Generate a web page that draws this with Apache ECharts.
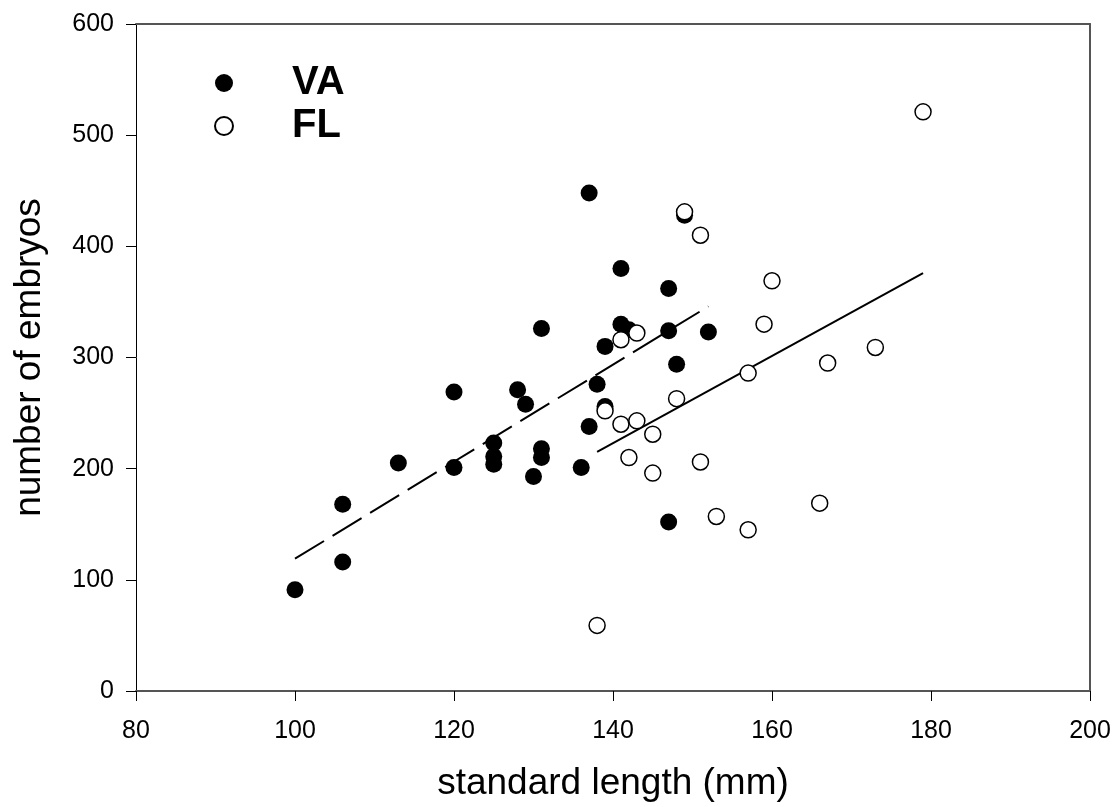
<!DOCTYPE html>
<html>
<head>
<meta charset="utf-8">
<script src="https://cdn.jsdelivr.net/npm/echarts@6/dist/echarts.min.js"></script>
<style>
html,body{margin:0;padding:0;background:#fff;}
#chart{width:1116px;height:807px;}
</style>
</head>
<body>
<div id="chart"></div>
<script>
// VA (filled circles): standard length (mm), number of embryos
const vaLength  = [100,106,106,113,120,120,125,125,125,128,129,130,131,131,131,136,137,137,138,139,139,141,141,142,147,147,147,148,149,152];
const vaEmbryos = [ 91,168,116,205,269,201,223,211,204,271,258,193,326,218,210,201,448,238,276,310,256,380,330,325,362,324,152,294,428,323];
// FL (open circles)
const flLength  = [179,151,149,160,159,141,143,157,167,173,148,139,141,143,145,142,145,151,153,157,166,138];
const flEmbryos = [521,410,431,369,330,316,322,286,295,309,263,252,240,243,231,210,196,206,157,145,169, 59];
// regression lines (end points)
const vaFitX = [100, 152];
const vaFitY = [119, 346];
const flFitX = [138, 179];
const flFitY = [215, 376];

const zip = (a, b) => a.map((v, i) => [v, b[i]]);
const font = '"Liberation Sans", Arial, sans-serif';

const chart = echarts.init(document.getElementById('chart'));
chart.setOption({
  animation: false,
  backgroundColor: '#ffffff',
  grid: { left: 136, right: 26, top: 24, bottom: 115 },
  legend: {
    data: ['VA', 'FL'],
    orient: 'vertical',
    left: 209,
    top: 58,
    itemWidth: 18,
    itemHeight: 18,
    itemGap: 3,
    textStyle: { fontFamily: font, fontSize: 40, fontWeight: 'bold', color: '#000', padding: [0, 0, 0, 54], lineHeight: 40 }
  },
  xAxis: [{
    type: 'value', min: 80, max: 200, interval: 20,
    name: 'standard length (mm)', nameLocation: 'middle', nameGap: 74,
    nameTextStyle: { fontFamily: font, fontSize: 37, color: '#000' },
    axisLine: { show: true, onZero: false, lineStyle: { color: '#555', width: 2 } },
    axisTick: { show: true, inside: false, length: 10, lineStyle: { color: '#000', width: 1 } },
    axisLabel: { fontFamily: font, fontSize: 25, color: '#000', margin: 28 },
    splitLine: { show: false }
  }, {
    type: 'value', min: 80, max: 200, position: 'top',
    axisLine: { show: true, onZero: false, lineStyle: { color: '#555', width: 2 } },
    axisTick: { show: false }, axisLabel: { show: false }, splitLine: { show: false }
  }],
  yAxis: [{
    type: 'value', min: 0, max: 600, interval: 100,
    name: 'number of embryos', nameLocation: 'middle', nameGap: 88,
    nameTextStyle: { fontFamily: font, fontSize: 37, color: '#000' },
    axisLine: { show: true, onZero: false, lineStyle: { color: '#000', width: 1 } },
    axisTick: { show: true, inside: false, length: 10, lineStyle: { color: '#000', width: 1 } },
    axisLabel: { fontFamily: font, fontSize: 25, color: '#000', margin: 22 },
    splitLine: { show: false }
  }, {
    type: 'value', min: 0, max: 600, position: 'right',
    axisLine: { show: true, onZero: false, lineStyle: { color: '#555', width: 2 } },
    axisTick: { show: false }, axisLabel: { show: false }, splitLine: { show: false }
  }],
  series: [
    {
      name: 'VA fit', type: 'line', data: zip(vaFitX, vaFitY), symbol: 'none', z: 1,
      lineStyle: { color: '#000', width: 2, type: [34, 10] }, silent: true
    },
    {
      name: 'FL fit', type: 'line', data: zip(flFitX, flFitY), symbol: 'none', z: 1,
      lineStyle: { color: '#000', width: 2, type: 'solid' }, silent: true
    },
    {
      name: 'VA', type: 'scatter', data: zip(vaLength, vaEmbryos), symbol: 'circle', symbolSize: 17, z: 2,
      itemStyle: { color: '#000', opacity: 1 }
    },
    {
      name: 'FL', type: 'scatter', data: zip(flLength, flEmbryos), symbol: 'circle', symbolSize: 16, z: 3,
      itemStyle: { color: '#fff', borderColor: '#000', borderWidth: 1.5, opacity: 1 }
    }
  ]
});
</script>
</body>
</html>
